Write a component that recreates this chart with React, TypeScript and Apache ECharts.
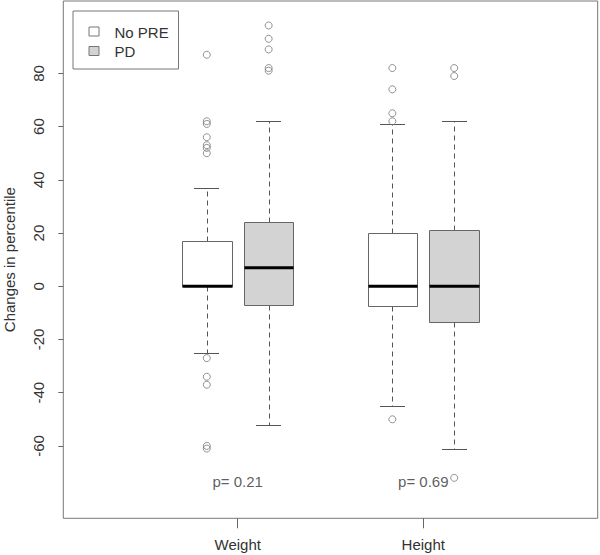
import React, { useEffect, useRef } from 'react';
import * as echarts from 'echarts';

const categories = ['Weight', 'Height'];
const groupNames = ['No PRE', 'PD'];
const categoryPositions = [1.5, 4.5];
const noPrePositions = [1, 4];
const pdPositions = [2, 5];
// [lower whisker, Q1, median, Q3, upper whisker]
const noPreStats = [
  [-25, 0, 0, 17, 37],
  [-45, -7.5, 0, 20, 61],
];
const pdStats = [
  [-52, -7, 7, 24.2, 62],
  [-61, -13.5, 0, 21, 62],
];
const noPreOutliers = [
  [87, 62, 61, 56, 53, 52, 50, -27, -34, -37, -60, -61],
  [82, 74, 65, 62, -50],
];
const pdOutliers = [
  [98, 93, 89, 82, 81],
  [82, 79, -72],
];
const pValues = ['p= 0.21', 'p= 0.69'];
const pValueY = -73.5;
const yTicks = [-60, -40, -20, 0, 20, 40, 60, 80];

const FONT = "'Liberation Sans', Arial, sans-serif";
const TEXT = '#333';
const GRAYLINE = '#666';
const fills = ['#ffffff', '#d3d3d3'];

function crisp(v: number) {
  return Math.round(v) + 0.5;
}

function makeRenderItem(fill: string) {
  return (params: any, api: any) => {
    const x = api.value(0);
    const cxRaw = api.coord([x, 0])[0];
    const cx = crisp(cxRaw);
    const lo = crisp(api.coord([x, api.value(1)])[1]);
    const q1 = crisp(api.coord([x, api.value(2)])[1]);
    const med = api.coord([x, api.value(3)])[1];
    const q3 = crisp(api.coord([x, api.value(4)])[1]);
    const hi = crisp(api.coord([x, api.value(5)])[1]);
    const bw = api.size([0.8, 0])[0];
    const left = crisp(cxRaw - bw / 2);
    const right = crisp(cxRaw + bw / 2);
    const capHalf = bw / 4;
    const dash = { stroke: '#555', lineWidth: 1, lineDash: [5, 4] };
    const solid = { stroke: '#555', lineWidth: 1 };
    return {
      type: 'group',
      children: [
        { type: 'line', shape: { x1: cx, y1: q3, x2: cx, y2: hi }, style: dash },
        { type: 'line', shape: { x1: cx, y1: q1, x2: cx, y2: lo }, style: dash },
        { type: 'line', shape: { x1: Math.round(cxRaw - capHalf), y1: hi, x2: Math.round(cxRaw + capHalf), y2: hi }, style: solid },
        { type: 'line', shape: { x1: Math.round(cxRaw - capHalf), y1: lo, x2: Math.round(cxRaw + capHalf), y2: lo }, style: solid },
        {
          type: 'rect',
          shape: { x: left, y: q3, width: right - left, height: q1 - q3 },
          style: { fill, stroke: GRAYLINE, lineWidth: 1 },
        },
        {
          type: 'line',
          shape: { x1: left, y1: med, x2: right, y2: med },
          style: { stroke: '#000', lineWidth: 3 },
        },
      ],
    };
  };
}

function flattenOutliers(positions: number[], outliers: number[][]) {
  const out: number[][] = [];
  outliers.forEach((vals, i) => vals.forEach((v) => out.push([positions[i], v])));
  return out;
}

export default function App() {
  const ref = useRef<HTMLDivElement>(null);
  useEffect(() => {
    if (!ref.current) return;
    const chart = echarts.init(ref.current, undefined, { renderer: 'svg' });
    const outlierStyle = {
      color: 'rgba(0,0,0,0)',
      borderColor: '#777',
      borderWidth: 1,
    };
    chart.setOption({
      animation: false,
      backgroundColor: '#fff',
      textStyle: { fontFamily: FONT },
      grid: {
        left: 63.3,
        top: 1,
        width: 534.4,
        height: 517.3,
        show: true,
        borderColor: '#777',
        borderWidth: 1,
        backgroundColor: 'transparent',
        containLabel: false,
        outerBoundsMode: 'none',
      },
      xAxis: {
        type: 'value',
        min: -1.32,
        max: 7.32,
        splitLine: { show: false },
        axisLine: { show: false, onZero: false },
        axisTick: {
          show: true,
          customValues: categoryPositions,
          length: 10,
          lineStyle: { color: GRAYLINE },
        },
        axisLabel: {
          show: true,
          customValues: categoryPositions,
          formatter: (v: number) => {
            const i = categoryPositions.findIndex((p) => Math.abs(p - v) < 1e-6);
            return i >= 0 ? categories[i] : '';
          },
          fontSize: 15,
          color: TEXT,
          fontFamily: FONT,
          margin: 19,
        },
      },
      yAxis: {
        type: 'value',
        min: -87.2,
        max: 107.2,
        splitLine: { show: false },
        axisLine: { show: false, onZero: false },
        axisTick: {
          show: true,
          customValues: yTicks,
          length: 5,
          lineStyle: { color: GRAYLINE },
        },
        axisLabel: {
          show: true,
          customValues: yTicks,
          rotate: 90,
          fontSize: 15,
          color: TEXT,
          fontFamily: FONT,
          margin: 17,
        },
        name: 'Changes in percentile',
        nameLocation: 'middle',
        nameRotate: 90,
        nameGap: 46,
        nameTextStyle: { fontSize: 15, color: TEXT, fontFamily: FONT },
      },
      graphic: [
        {
          type: 'group',
          left: 72.5,
          top: 10.5,
          children: [
            {
              type: 'rect',
              shape: { x: 0, y: 0, width: 105.5, height: 58 },
              style: { fill: '#fff', stroke: '#777', lineWidth: 1 },
            },
            {
              type: 'rect',
              shape: { x: 16, y: 16, width: 10, height: 9 },
              style: { fill: fills[0], stroke: '#777', lineWidth: 1 },
            },
            {
              type: 'rect',
              shape: { x: 16, y: 35.5, width: 10, height: 9 },
              style: { fill: fills[1], stroke: '#777', lineWidth: 1 },
            },
            {
              type: 'text',
              x: 41.5,
              y: 21,
              style: { text: groupNames[0], fontSize: 15, fontFamily: FONT, fill: TEXT, verticalAlign: 'middle' },
            },
            {
              type: 'text',
              x: 41.5,
              y: 40.5,
              style: { text: groupNames[1], fontSize: 15, fontFamily: FONT, fill: TEXT, verticalAlign: 'middle' },
            },
          ],
        },
      ],
      series: [
        {
          name: groupNames[0],
          type: 'custom',
          renderItem: makeRenderItem(fills[0]),
          encode: { x: 0, y: [1, 2, 3, 4, 5] },
          data: noPreStats.map((s, i) => [noPrePositions[i], ...s]),
          z: 2,
        },
        {
          name: groupNames[1],
          type: 'custom',
          renderItem: makeRenderItem(fills[1]),
          encode: { x: 0, y: [1, 2, 3, 4, 5] },
          data: pdStats.map((s, i) => [pdPositions[i], ...s]),
          z: 2,
        },
        {
          name: groupNames[0] + ' outliers',
          type: 'scatter',
          symbol: 'circle',
          symbolSize: 7,
          itemStyle: outlierStyle,
          data: flattenOutliers(noPrePositions, noPreOutliers),
          z: 3,
        },
        {
          name: groupNames[1] + ' outliers',
          type: 'scatter',
          symbol: 'circle',
          symbolSize: 7,
          itemStyle: outlierStyle,
          data: flattenOutliers(pdPositions, pdOutliers),
          z: 3,
        },
        {
          name: 'p values',
          type: 'scatter',
          symbolSize: 0,
          data: categoryPositions.map((p) => [p, pValueY]),
          label: {
            show: true,
            position: 'inside',
            formatter: (p: any) => pValues[p.dataIndex],
            fontSize: 15,
            color: TEXT,
            fontFamily: FONT,
          },
          z: 4,
        },
      ],
    });
    return () => chart.dispose();
  }, []);
  return (
    <div
      ref={ref}
      style={{ position: 'fixed', left: 0, top: 0, width: 600, height: 555, background: '#fff' }}
    />
  );
}
